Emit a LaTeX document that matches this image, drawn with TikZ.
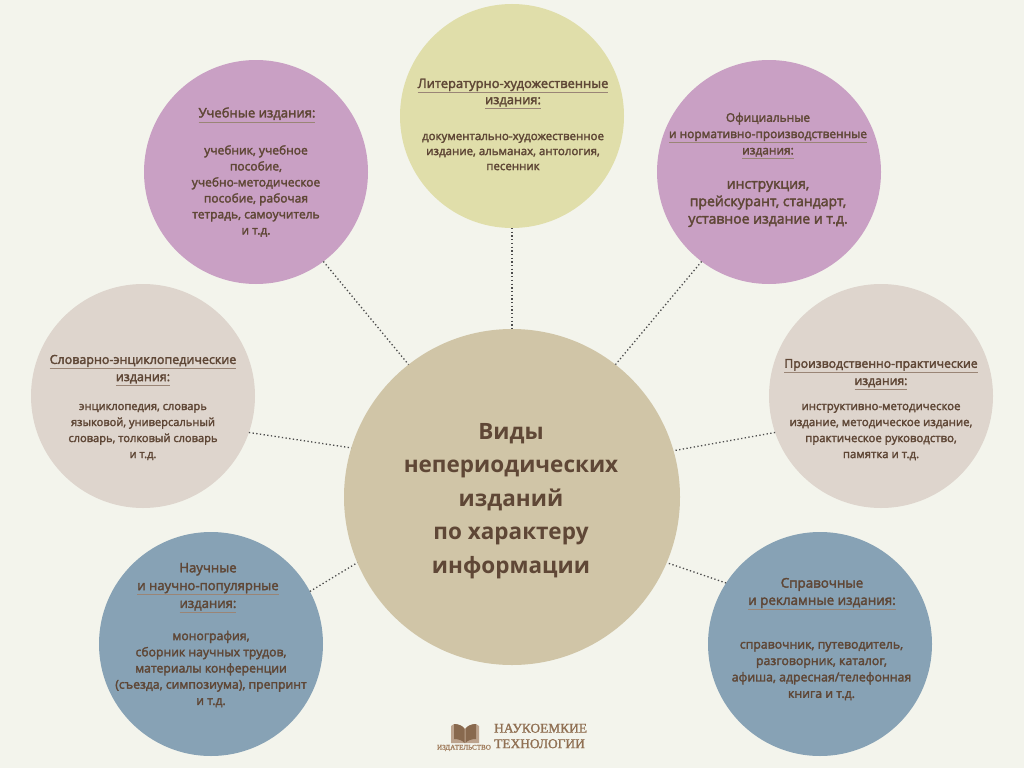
\documentclass[tikz,border=0pt]{standalone}
\usepackage{fontspec}
\setmainfont{Open Sans}
\newfontfamily\semi[RawFeature={embolden=2.5}]{Open Sans}
\newfontfamily\logofont[RawFeature={embolden=1.5}]{Liberation Serif}
\usepackage{xcolor}
\definecolor{paper}{HTML}{F3F4EC}
\definecolor{plum}{HTML}{C9A0C4}
\definecolor{straw}{HTML}{E0DEAA}
\definecolor{shell}{HTML}{DED5CD}
\definecolor{steel}{HTML}{87A2B5}
\definecolor{sand}{HTML}{D0C5A7}
\definecolor{ink}{HTML}{5F4736}
\definecolor{rulecol}{HTML}{9A8576}
\definecolor{logocol}{HTML}{A07C5C}
\newcommand{\ttl}[1]{{\color{rulecol}\underline{\color{ink}\vphantom{у}#1}}}
\begin{document}
\begin{tikzpicture}[x=1pt,y=-1pt]
\tikzstyle{ball} = [circle, minimum size=224pt, inner sep=0pt, outer sep=0pt]
\tikzstyle{head} = [align=center, text=ink, font=\semi\fontsize{12.5}{17.2}\selectfont]
\tikzstyle{body} = [align=center, text=ink, font=\semi\fontsize{11.4}{16}\selectfont]
\tikzstyle{link} = [line width=1.3pt, dash pattern=on 1.3pt off 2.4pt, black!70]
\useasboundingbox (0,0) rectangle (1024,768);
\fill [paper] (0,0) rectangle (1024,768);
\node [ball, fill=sand, minimum size=336pt] (hub) at (512,497) {};
\node [ball, fill=plum] (study) at (256,172) {};
\node [ball, fill=straw] (art) at (512,116) {};
\node [ball, fill=plum] (norm) at (769,172) {};
\node [ball, fill=shell] (dict) at (143,396) {};
\node [ball, fill=shell] (prod) at (881,396) {};
\node [ball, fill=steel] (sci) at (211,644) {};
\node [ball, fill=steel] (ref) at (820,644) {};
\draw [link] (study.-53.7) -- (hub.128.4);
\draw [link] (art.south) -- (hub.north);
\draw [link] (norm.233.7) -- (hub.52.9);
\draw [link] (dict.-19.4) -- (hub.163.5);
\draw [link] (prod.199.4) -- (hub.16.5);
\draw [link] (sci.28.6) -- (hub.203.8);
\draw [link] (ref.147.3) -- (hub.-23.2);
\node [align=center, text=ink, font=\fontsize{22.5}{33.4}\selectfont\bfseries] (hubtext) at (511,501) {Виды\\непериодических\\изданий\\по характеру\\информации};
\node [head, font=\semi\fontsize{13.1}{17.2}\selectfont] (studyhead) at (257,115) {\ttl{Учебные издания:}};
\node [body, font=\semi\fontsize{12}{16}\selectfont] (studybody) at (256,191) {учебник, учебное\\пособие,\\учебно-методическое\\пособие, рабочая\\тетрадь, самоучитель\\и т.д.};
\node [head, font=\semi\fontsize{12.9}{16.2}\selectfont] (arthead) at (513,94) {\ttl{Литературно-художественные}\\\ttl{издания:}};
\node [body, font=\semi\fontsize{11.5}{15}\selectfont] (artbody) at (513,152) {документально-художественное\\издание, альманах, антология,\\песенник};
\node [head, font=\semi\fontsize{11.9}{16.3}\selectfont] (normhead) at (768,136) {Официальные\\\ttl{и нормативно-производственные}\\\ttl{издания:}};
\node [body, font=\semi\fontsize{14}{17.5}\selectfont] (normbody) at (768,204) {инструкция,\\прейскурант, стандарт,\\уставное издание и т.д.};
\node [head] (dicthead) at (143,370.5) {\ttl{Словарно-энциклопедические}\\\ttl{издания:}};
\node [body, font=\semi\fontsize{11.1}{16}\selectfont] (dictbody) at (143,432) {энциклопедия, словарь\\языковой, универсальный\\словарь, толковый словарь\\и т.д.};
\node [head, font=\semi\fontsize{12.2}{17.2}\selectfont] (prodhead) at (881,374.5) {\ttl{Производственно-практические}\\\ttl{издания:}};
\node [body] (prodbody) at (881,432) {инструктивно-методическое\\издание, методическое издание,\\практическое руководство,\\памятка и т.д.};
\node [head, font=\semi\fontsize{13.1}{17.8}\selectfont] (scihead) at (208,588) {Научные\\\ttl{и научно-популярные}\\\ttl{издания:}};
\node [body, font=\semi\fontsize{12.2}{16.2}\selectfont] (scibody) at (211,669) {монография,\\сборник научных трудов,\\материалы конференции\\(съезда, симпозиума), препринт\\и т.д.};
\node [head, font=\semi\fontsize{13.4}{17.2}\selectfont] (refhead) at (822,594) {Справочные\\\ttl{и рекламные издания:}};
\node [body, font=\semi\fontsize{12.3}{16.4}\selectfont] (refbody) at (821.5,671) {справочник, путеводитель,\\разговорник, каталог,\\афиша, адресная/телефонная\\книга и т.д.};
% logo
\fill [logocol!70] (451,726) -- (454,724) .. controls (459,724) and (463,726) .. (465,729) .. controls (467,726) and (471,724) .. (476,724) -- (479,726) -- (479,743) -- (466,743) -- (464,743) -- (451,743) -- cycle;
\fill [logocol!85!black] (454,724) .. controls (459,724) and (463,726) .. (464.5,729) -- (464.5,743) .. controls (462,740) and (458,739) .. (454,739) -- cycle;
\fill [logocol!85!black] (476,724) .. controls (471,724) and (467,726) .. (465.5,729) -- (465.5,743) .. controls (468,740) and (472,739) .. (476,739) -- cycle;
\node [text=logocol, font=\logofont\fontsize{7.1}{8}\selectfont] (pubname) at (464,748) {ИЗДАТЕЛЬСТВО};
\node [anchor=west, inner sep=0pt, align=left, text=logocol!90!black, font=\logofont\fontsize{13.4}{15.5}\selectfont] (logoname) at (494,736) {НАУКОЕМКИЕ\\ТЕХНОЛОГИИ};
\end{tikzpicture}
\end{document}
